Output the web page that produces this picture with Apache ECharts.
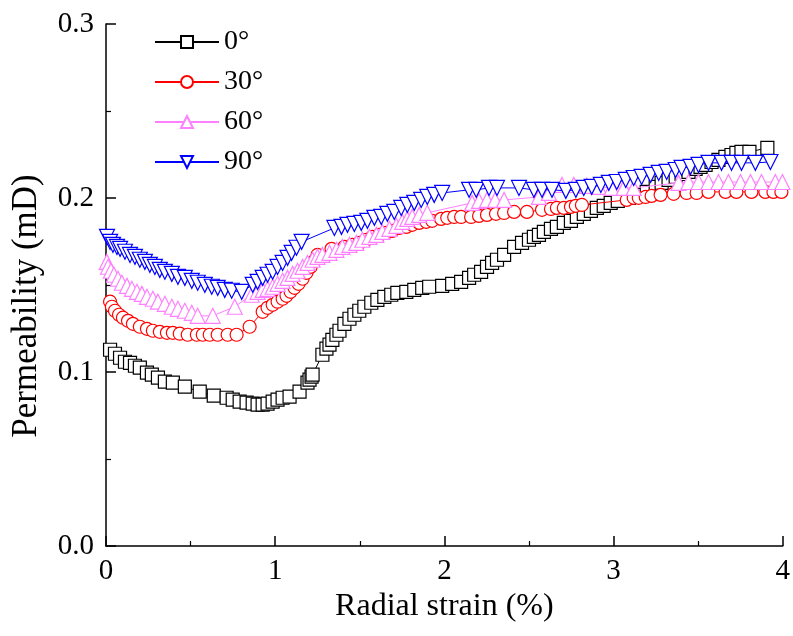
<!DOCTYPE html>
<html>
<head>
<meta charset="utf-8">
<script src="https://cdn.jsdelivr.net/npm/echarts@6/dist/echarts.min.js"></script>
<style>
html,body{margin:0;padding:0;background:#fff;}
#chart{width:793px;height:636px;}
</style>
</head>
<body>
<div id="chart"></div>
<script>
// Data: radial strain (%) and permeability (mD)
const seriesNames = ['0°', '30°', '60°', '90°'];
const xTicks = [0, 1, 2, 3, 4];
const yTicks = [0.0, 0.1, 0.2, 0.3];

const strain0 = [0.024,0.053,0.083,0.112,0.142,0.171,0.200,0.242,0.271,0.307,0.348,0.395,0.466,0.554,0.637,0.713,0.749,0.790,0.831,0.867,0.896,0.926,0.955,0.985,1.014,1.044,1.085,1.144,1.191,1.203,1.215,1.221,1.279,1.303,1.321,1.338,1.362,1.380,1.409,1.439,1.468,1.497,1.527,1.568,1.604,1.645,1.686,1.722,1.775,1.822,1.869,1.910,1.987,2.046,2.099,2.146,2.176,2.217,2.252,2.282,2.311,2.353,2.412,2.459,2.500,2.529,2.559,2.588,2.630,2.665,2.706,2.748,2.783,2.824,2.866,2.901,2.942,2.983,3.025,3.090,3.149,3.196,3.249,3.284,3.325,3.367,3.402,3.443,3.485,3.514,3.544,3.579,3.620,3.661,3.697,3.726,3.756,3.803,3.909];
const perm0 = [0.1128,0.1105,0.1082,0.1059,0.1053,0.1036,0.1025,0.0996,0.0985,0.0968,0.0945,0.0939,0.0916,0.0887,0.0864,0.0852,0.0841,0.0830,0.0824,0.0818,0.0813,0.0813,0.0818,0.0830,0.0841,0.0852,0.0858,0.0887,0.0939,0.0956,0.0973,0.0985,0.1099,0.1134,0.1157,0.1185,0.1214,0.1237,0.1277,0.1306,0.1329,0.1352,0.1375,0.1398,0.1415,0.1432,0.1444,0.1455,0.1461,0.1472,0.1484,0.1490,0.1495,0.1507,0.1518,0.1541,0.1559,0.1576,0.1604,0.1627,0.1645,0.1673,0.1719,0.1742,0.1760,0.1777,0.1788,0.1805,0.1823,0.1834,0.1857,0.1869,0.1892,0.1909,0.1926,0.1943,0.1955,0.1972,0.1983,0.2001,0.2018,0.2035,0.2064,0.2087,0.2104,0.2121,0.2138,0.2150,0.2167,0.2179,0.2190,0.2207,0.2219,0.2236,0.2247,0.2259,0.2265,0.2265,0.2288];

const strain30 = [0.024,0.035,0.053,0.077,0.100,0.130,0.159,0.200,0.242,0.277,0.318,0.360,0.395,0.436,0.483,0.537,0.572,0.613,0.660,0.719,0.772,0.849,0.926,0.955,0.985,1.014,1.044,1.067,1.091,1.114,1.138,1.162,1.185,1.209,1.232,1.250,1.333,1.409,1.456,1.498,1.539,1.574,1.616,1.657,1.692,1.733,1.775,1.810,1.851,1.893,1.928,1.981,2.017,2.058,2.099,2.158,2.205,2.252,2.305,2.353,2.412,2.488,2.577,2.630,2.665,2.706,2.748,2.777,2.813,3.078,3.119,3.149,3.190,3.225,3.278,3.355,3.432,3.491,3.561,3.662,3.726,3.815,3.897,3.945,3.992];
const perm30 = [0.1404,0.1375,0.1352,0.1329,0.1312,0.1294,0.1277,0.1260,0.1248,0.1237,0.1231,0.1225,0.1225,0.1220,0.1214,0.1214,0.1214,0.1214,0.1214,0.1214,0.1214,0.1260,0.1346,0.1369,0.1386,0.1404,0.1421,0.1438,0.1461,0.1484,0.1507,0.1536,0.1570,0.1604,0.1639,0.1673,0.1708,0.1719,0.1731,0.1742,0.1760,0.1777,0.1788,0.1800,0.1811,0.1828,0.1834,0.1846,0.1857,0.1863,0.1869,0.1880,0.1886,0.1891,0.1891,0.1891,0.1897,0.1903,0.1909,0.1914,0.1920,0.1920,0.1932,0.1937,0.1943,0.1943,0.1949,0.1955,0.1960,0.1989,0.2001,0.2001,0.2006,0.2012,0.2018,0.2024,0.2029,0.2029,0.2035,0.2035,0.2035,0.2035,0.2035,0.2035,0.2035];

const strain60 = [0.005,0.012,0.029,0.047,0.071,0.094,0.124,0.153,0.183,0.212,0.242,0.277,0.307,0.348,0.389,0.425,0.466,0.507,0.542,0.631,0.761,0.861,0.896,0.926,0.955,0.985,1.014,1.044,1.073,1.103,1.132,1.162,1.191,1.221,1.250,1.279,1.321,1.362,1.397,1.439,1.480,1.515,1.557,1.598,1.633,1.675,1.716,1.751,1.781,1.810,1.851,1.899,2.164,2.205,2.252,2.300,2.353,2.559,2.618,2.695,2.765,2.842,2.913,2.989,3.060,3.119,3.384,3.443,3.502,3.561,3.620,3.679,3.750,3.809,3.874,3.956,3.998];
const perm60 = [0.1633,0.1605,0.1582,0.1559,0.1536,0.1513,0.1495,0.1478,0.1461,0.1449,0.1432,0.1421,0.1404,0.1392,0.1375,0.1363,0.1352,0.1340,0.1323,0.1323,0.1375,0.1444,0.1461,0.1472,0.1478,0.1490,0.1507,0.1524,0.1541,0.1564,0.1582,0.1604,0.1627,0.1645,0.1662,0.1673,0.1685,0.1702,0.1719,0.1731,0.1742,0.1760,0.1777,0.1788,0.1805,0.1823,0.1840,0.1863,0.1880,0.1891,0.1903,0.1915,0.1972,0.1983,0.1989,0.1989,0.1989,0.2006,0.2029,0.2075,0.2075,0.2070,0.2064,0.2058,0.2058,0.2058,0.2087,0.2092,0.2092,0.2092,0.2092,0.2092,0.2092,0.2092,0.2092,0.2092,0.2092];

const strain90 = [0.006,0.024,0.041,0.065,0.083,0.112,0.142,0.171,0.200,0.230,0.259,0.289,0.318,0.348,0.389,0.425,0.466,0.507,0.542,0.584,0.625,0.660,0.702,0.743,0.802,0.867,0.896,0.926,0.955,0.985,1.014,1.044,1.073,1.097,1.126,1.156,1.350,1.392,1.427,1.468,1.509,1.545,1.586,1.627,1.663,1.704,1.745,1.781,1.822,1.863,1.899,1.940,1.987,2.146,2.188,2.264,2.311,2.441,2.529,2.577,2.636,2.718,2.777,2.824,2.871,2.925,2.972,3.019,3.072,3.119,3.166,3.219,3.267,3.314,3.367,3.402,3.455,3.502,3.561,3.638,3.697,3.756,3.838,3.927];
const perm90 = [0.1777,0.1748,0.1731,0.1719,0.1708,0.1691,0.1673,0.1662,0.1645,0.1633,0.1616,0.1604,0.1587,0.1576,0.1564,0.1547,0.1541,0.1524,0.1513,0.1501,0.1490,0.1484,0.1472,0.1467,0.1461,0.1501,0.1518,0.1541,0.1559,0.1576,0.1604,0.1627,0.1656,0.1685,0.1714,0.1748,0.1828,0.1834,0.1846,0.1851,0.1857,0.1869,0.1886,0.1891,0.1909,0.1920,0.1943,0.1960,0.1972,0.1989,0.2006,0.2018,0.2029,0.2047,0.2047,0.2058,0.2058,0.2058,0.2047,0.2047,0.2047,0.2041,0.2047,0.2058,0.2064,0.2075,0.2087,0.2092,0.2104,0.2115,0.2121,0.2133,0.2144,0.2150,0.2161,0.2173,0.2179,0.2190,0.2202,0.2202,0.2202,0.2202,0.2202,0.2207];

const colors = ['#000000', '#ff0000', '#ff80ff', '#0000ff'];
const symbols = ['rect', 'circle', 'triangle', 'triangle'];
const rotations = [0, 0, 0, 180];
const sizes = [13, 13, 15, 15];
const xs = [strain0, strain30, strain60, strain90];
const ys = [perm0, perm30, perm60, perm90];

const font = 'Liberation Serif, Times New Roman, serif';

const series = seriesNames.map((name, i) => ({
  name: name,
  type: 'line',
  data: xs[i].map((x, k) => [x, ys[i][k]]),
  symbol: symbols[i],
  symbolSize: sizes[i],
  symbolRotate: rotations[i],
  showAllSymbol: true,
  smooth: false,
  animation: false,
  lineStyle: { color: colors[i], width: 1 },
  itemStyle: { color: '#ffffff', borderColor: colors[i], borderWidth: 1.2 },
  emphasis: { disabled: true },
  z: 2 + i
}));

const chart = echarts.init(document.getElementById('chart'), null, { renderer: 'canvas' });
chart.setOption({
  backgroundColor: '#ffffff',
  animation: false,
  grid: { left: 106, right: 9, top: 24, bottom: 90, containLabel: false },
  legend: {
    orient: 'vertical',
    left: 149,
    top: 23,
    itemWidth: 64,
    itemHeight: 15,
    itemGap: 12,
    textStyle: { fontFamily: font, fontSize: 28, color: '#000', lineHeight: 28 },
    data: seriesNames
  },
  xAxis: {
    type: 'value',
    min: xTicks[0],
    max: xTicks[xTicks.length - 1],
    interval: 1,
    name: 'Radial strain (%)',
    nameLocation: 'middle',
    nameGap: 44,
    nameTextStyle: { fontFamily: font, fontSize: 32, color: '#000' },
    axisLine: { show: true, onZero: false, lineStyle: { color: '#000', width: 1.5 } },
    axisTick: { show: true, inside: true, length: 10, lineStyle: { color: '#000', width: 1.5 } },
    minorTick: { show: true, splitNumber: 2, length: 5, lineStyle: { color: '#000', width: 1.2 } },
    axisLabel: { fontFamily: font, fontSize: 29, color: '#000', margin: 11 },
    splitLine: { show: false }
  },
  yAxis: {
    type: 'value',
    min: yTicks[0],
    max: yTicks[yTicks.length - 1],
    interval: 0.1,
    name: 'Permeability (mD)',
    nameLocation: 'middle',
    nameGap: 62,
    nameTextStyle: { fontFamily: font, fontSize: 35, color: '#000', padding: [0, 42, 0, 0] },
    axisLine: { show: true, onZero: false, lineStyle: { color: '#000', width: 1.5 } },
    axisTick: { show: true, inside: true, length: 10, lineStyle: { color: '#000', width: 1.5 } },
    minorTick: { show: true, splitNumber: 2, length: 5, lineStyle: { color: '#000', width: 1.2 } },
    axisLabel: { fontFamily: font, fontSize: 29, color: '#000', margin: 12, formatter: v => v.toFixed(1) },
    splitLine: { show: false }
  },
  series: series
});
</script>
</body>
</html>
